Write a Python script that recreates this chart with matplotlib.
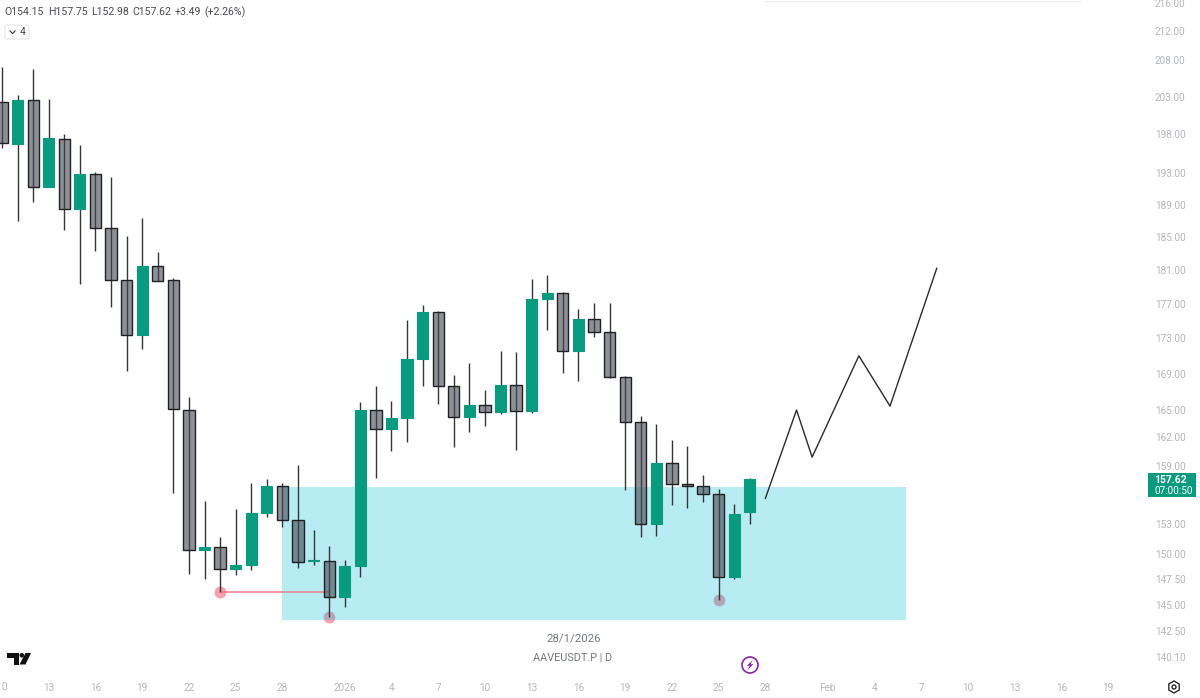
#!/usr/bin/env python3
"""AAVEUSDT.P daily candles with demand zone and projected path."""
import matplotlib
matplotlib.use('Agg')
import matplotlib.pyplot as plt
from matplotlib.patches import Rectangle, Circle, FancyBboxPatch, Polygon, RegularPolygon
from matplotlib.ticker import NullLocator

plt.rcParams['font.family'] = ['Roboto', 'DejaVu Sans']

opens = [202.29, 196.8, 202.56, 191.23, 197.39, 188.45, 192.9, 186.1, 179.79, 173.4,
         181.5, 179.79, 164.97, 150.36, 150.66, 148.49, 148.88, 154.1, 156.86, 153.37,
         149.27, 149.27, 145.76, 148.78, 164.97, 162.9, 164.1, 170.65, 176.05, 167.6,
         164.2, 165.5, 164.75, 167.72, 164.86, 177.55, 178.25, 171.54, 175.2, 173.7,
         168.6, 163.7, 153.0, 159.3, 157.07, 156.86, 156.04, 147.7, 154.15]
highs = [207.05, 203.23, 206.78, 202.69, 198.04, 196.61, 193.14, 192.5, 185.12, 187.3,
         183.17, 180.03, 166.39, 155.32, 151.66, 154.5, 157.2, 157.61, 157.2, 159.07,
         152.38, 150.76, 149.37, 165.84, 167.6, 165.95, 175.1, 176.85, 176.15, 168.85,
         170.2, 167.15, 171.54, 171.42, 179.9, 180.4, 178.37, 176.4, 177.08, 177.08,
         168.7, 164.3, 163.4, 161.75, 161.1, 158.0, 156.55, 155.0, 157.75]
lows = [196.22, 186.98, 189.33, 191.23, 185.84, 179.3, 183.29, 176.61, 169.3, 171.76,
        179.67, 156.14, 148.0, 147.5, 146.25, 147.9, 148.39, 153.68, 152.68, 148.59,
        148.88, 143.85, 144.8, 147.7, 157.7, 160.55, 161.5, 167.6, 165.62, 160.98,
        162.6, 163.25, 164.53, 160.66, 164.64, 174.0, 169.1, 168.2, 173.2, 168.5,
        156.45, 151.66, 151.76, 154.9, 154.6, 155.2, 145.47, 147.5, 152.98]
closes = [196.87, 202.56, 191.23, 197.52, 188.45, 192.9, 186.1, 179.79, 173.4, 181.5,
          179.67, 165.08, 150.36, 150.66, 148.49, 148.88, 154.1, 156.86, 153.37, 149.17,
          149.37, 145.76, 148.78, 164.97, 162.9, 164.1, 170.65, 176.05, 167.6, 164.2,
          165.5, 164.75, 167.72, 164.86, 177.55, 178.25, 171.54, 175.2, 173.7, 168.6,
          163.7, 153.0, 159.3, 157.07, 156.86, 156.04, 147.7, 154.0, 157.62]

price_ticks = [216, 212, 208, 203, 198, 193, 189, 185, 181, 177, 173, 169, 165, 162,
               159, 153, 150, 147.5, 145, 142.5, 140.1]
date_ticks = [3, 6, 9, 12, 15, 18, 22, 25, 28, 31, 34, 37, 40, 43, 46, 49, 53, 56,
              59, 62, 65, 68, 71]
date_labels = ['13', '16', '19', '22', '25', '28', '2026', '4', '7', '10', '13',
               '16', '19', '22', '25', '28', 'Feb', '4', '7', '10', '13', '16', '19']
header_parts = ['O154.15', 'H157.75', 'L152.98', 'C157.62', '+3.49', '(+2.26%)']
header_px = [4, 48, 91, 132, 175, 204]

path_x = [49, 51, 52, 55, 57, 60]
path_y = [155.6, 164.97, 159.9, 171.0, 165.4, 181.2]
zone_x = (18, 58)
zone_y = (143.6, 156.8)
sweep_x = (14, 21)
sweep_y = 146.25
dots_x = [14, 21, 46]
dots_y = [146.25, 143.85, 145.47]

GREEN = '#089b80'
GREY = (68 / 255, 70 / 255, 81 / 255, 0.6)
EDGE = '#1f2024'
TICK = '#b4b6bb'
DARK = '#4a4b52'

fig = plt.figure(figsize=(12, 6.98), dpi=100, facecolor='white')
ax = fig.add_axes([0, 22 / 698, 1148 / 1200, 676 / 698])
ax.set_yscale('log')
ax.set_xlim(-0.128, 73.56)
ax.set_ylim(138.33, 216.43)

ax.plot(dots_x, dots_y, ls='none', marker='o', ms=8.5, mec='none', color='#f7a0ad', zorder=1)
ax.add_patch(Rectangle((zone_x[0], zone_y[0]), zone_x[1] - zone_x[0], zone_y[1] - zone_y[0],
                       color='#00bcd4', alpha=0.28, lw=0, zorder=1.5))
ax.plot(sweep_x, [sweep_y, sweep_y], color='#f2788c', lw=1.1, zorder=1.8)

for i, (o, h, l, c) in enumerate(zip(opens, highs, lows, closes)):
    up = c >= o
    ax.vlines(i, l, h, color='#34353a', lw=1, zorder=2)
    if up:
        ax.bar(i, c - o, bottom=o, width=0.72, color=GREEN, edgecolor=GREEN, lw=0.8, zorder=5)
    else:
        ax.bar(i, o - c, bottom=c, width=0.72, facecolor=GREY, edgecolor=EDGE, lw=1, zorder=3)

ax.plot(path_x, path_y, color='#2b2b2f', lw=1, zorder=6)

for s in ax.spines.values():
    s.set_visible(False)
ax.yaxis.tick_right()
ax.yaxis.set_minor_locator(NullLocator())
ax.set_yticks(price_ticks)
ax.set_yticklabels([f'{p:.2f}' for p in price_ticks])
ax.set_xticks(date_ticks)
ax.set_xticklabels(date_labels)
ax.tick_params(axis='y', length=0, pad=5, labelsize=7.2, labelcolor=TICK)
ax.tick_params(axis='x', length=0, pad=5, labelsize=7.2, labelcolor=TICK)

# overlay in pixels for the TradingView furniture
ov = fig.add_axes([0, 0, 1, 1], facecolor='none')
ov.set_xlim(0, 1200)
ov.set_ylim(698, 0)
ov.axis('off')

for part, px in zip(header_parts, header_px):
    ov.text(px, 12, part, fontsize=7.6, color=DARK, va='center')
ov.add_patch(FancyBboxPatch((5, 25), 24, 14, boxstyle='round,pad=0,rounding_size=2',
                            fc='white', ec='#e6e6e8', lw=0.8))
ov.plot([10, 12.5, 15], [31, 33.5, 31], color=DARK, lw=0.9)
ov.text(22.5, 32, '4', fontsize=7.5, color=DARK, va='center', ha='center')
ov.text(573.5, 638, '28/1/2026', fontsize=8.2, color='#74777d', ha='center', va='center')
ov.text(573, 657, 'AAVEUSDT.P | D', fontsize=7.8, color='#74777d', ha='center', va='center')
ov.text(1, 687, '0', fontsize=7.2, color=TICK, va='center')

ov.add_patch(Rectangle((1148, 473), 48, 24, color=GREEN, lw=0))
ov.text(1154.5, 480, '157.62', fontsize=7.5, color='white', fontweight='bold', va='center')
ov.text(1154.5, 491, '07:00:50', fontsize=7.2, color='white', va='center')

ov.add_patch(Polygon([(7, 653), (19, 653), (19, 664.5), (13.5, 664.5), (13.5, 657.5), (7, 657.5)],
                     fc='#111111', ec='none'))
ov.add_patch(Circle((21.8, 655.3), 2.3, fc='#111111', ec='none'))
ov.add_patch(Polygon([(25.5, 653), (31, 653), (25.5, 664.5), (19.5, 664.5)], fc='#111111', ec='none'))

ov.add_patch(Circle((750, 665), 8, fc='white', ec='#8e24aa', lw=1.2))
ov.add_patch(Polygon([(752.8, 660), (746.8, 665.8), (749.6, 665.8), (747.6, 670),
                      (753.4, 664.2), (750.6, 664.2)], fc='#8e24aa', ec='none'))
ov.add_patch(RegularPolygon((1174, 687), 6, radius=6, fc='white', ec='#2a2a2e', lw=1))
ov.add_patch(Circle((1174, 687), 2, fc='white', ec='#2a2a2e', lw=1))
ov.plot([765, 1080], [0.5, 0.5], color='#efeff0', lw=0.8)

fig.savefig('out.png', dpi=100)
